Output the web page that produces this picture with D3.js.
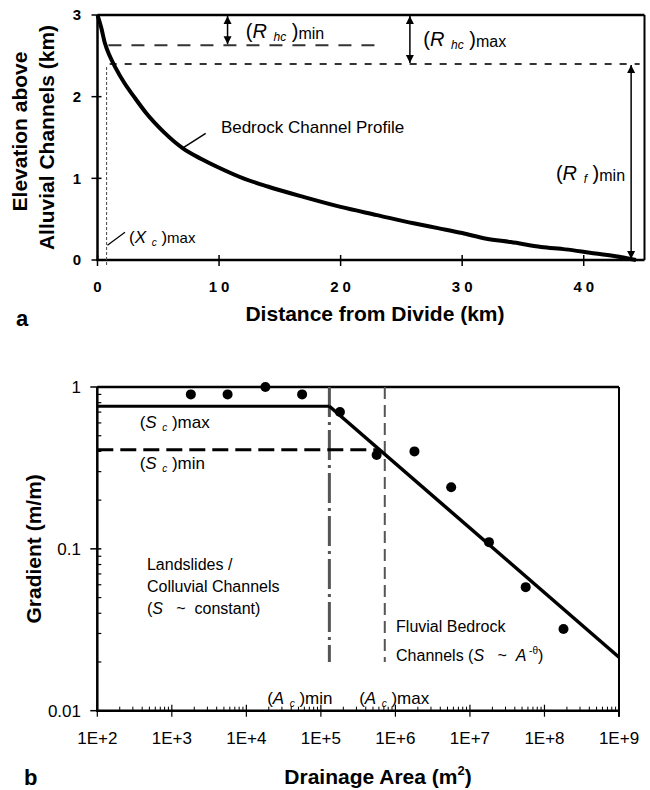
<!DOCTYPE html>
<html lang="en">
<head>
<meta charset="UTF-8">
<script src="https://cdn.jsdelivr.net/npm/d3@7/dist/d3.min.js"></script>
<title>Bedrock channel profile and slope-area</title>
<style>
  body { margin: 0; background: #fff; }
  svg { font-family: "Liberation Sans", Arial, sans-serif; }
</style>
</head>
<body>
<div id="chart"></div>
<script>
// ---- panel a: long profile (km) ----
const profileKm   = [0, 0.3, 0.6, 1.0, 1.5, 2.2, 3.0, 4.0, 5.5, 7.0, 8.5, 10, 12, 14, 17, 20, 23, 26, 28, 30, 32, 34, 36.5, 38.5, 40.5, 42.5, 44.3];
const profileElev = [3.0, 2.85, 2.66, 2.5, 2.35, 2.17, 2.0, 1.80, 1.56, 1.37, 1.24, 1.13, 1.0, 0.90, 0.77, 0.65, 0.55, 0.45, 0.39, 0.33, 0.26, 0.22, 0.16, 0.13, 0.09, 0.05, 0.0];
const distTicks = [0, 10, 20, 30, 40];
const elevTicks = [0, 1, 2, 3];
const rhcMinLevel = 2.63;   // elevation of upper dashed line
const rfMinLevel  = 2.4;    // elevation of lower dashed line
const xcMax = 0.75;         // km

// ---- panel b: slope-area ----
const areaBins  = [1.8e3, 5.6e3, 1.8e4, 5.6e4, 1.8e5, 5.6e5, 1.8e6, 5.6e6, 1.8e7, 5.6e7, 1.8e8];
const gradients = [0.9, 0.9, 1.0, 0.9, 0.70, 0.38, 0.40, 0.24, 0.11, 0.058, 0.032];
const areaTicks = [1e2, 1e3, 1e4, 1e5, 1e6, 1e7, 1e8, 1e9];
const gradTicks = [1, 0.1, 0.01];
const scMax = 0.76, scMin = 0.41;
const acMin = 1.3e5, acMax = 7.2e5;
const fluvialEnd = [1e9, 0.0214];

const W = 650, H = 790;
const svg = d3.select("#chart").append("svg")
  .attr("width", W).attr("height", H)
  .attr("viewBox", [0, 0, W, H]);

const defs = svg.append("defs");
defs.append("marker")
  .attr("id", "arr").attr("viewBox", "0 0 10 10")
  .attr("refX", 10).attr("refY", 5)
  .attr("markerWidth", 8).attr("markerHeight", 10)
  .attr("markerUnits", "userSpaceOnUse")
  .attr("orient", "auto-start-reverse")
  .append("path").attr("d", "M0,0L10,5L0,10Z").attr("fill", "#000");

// rich text helper: parts = [text, size, italic, dy]
function rich(g, x, y, parts, anchor) {
  const t = g.append("text").attr("x", x).attr("y", y)
    .attr("text-anchor", anchor || "start").attr("fill", "#000");
  parts.forEach(([s, size, it, dy]) => {
    t.append("tspan").text(s)
      .attr("font-size", size)
      .attr("font-style", it ? "italic" : "normal")
      .attr("dy", dy || 0)
      .attr("xml:space", "preserve");
  });
  return t;
}

// =================== PANEL A ===================
const xA = d3.scaleLinear().domain([0, 45]).range([97.5, 644.5]);
const yA = d3.scaleLinear().domain([0, 3]).range([260, 15]);
const ga = svg.append("g");

// frame
ga.append("line").attr("x1", xA(0)).attr("x2", xA(45)).attr("y1", yA(3)).attr("y2", yA(3))
  .attr("stroke", "#000").attr("stroke-width", 2.5);
ga.append("line").attr("x1", xA(45)).attr("x2", xA(45)).attr("y1", yA(3)).attr("y2", yA(0))
  .attr("stroke", "#000").attr("stroke-width", 2);
ga.append("line").attr("x1", xA(0)).attr("x2", xA(0)).attr("y1", yA(3)).attr("y2", yA(0) + 1)
  .attr("stroke", "#000").attr("stroke-width", 2.5);
ga.append("line").attr("x1", xA(0) - 1).attr("x2", xA(45)).attr("y1", yA(0)).attr("y2", yA(0))
  .attr("stroke", "#000").attr("stroke-width", 2.5);

// ticks (cross the axis)
ga.selectAll(".yt").data(elevTicks).join("line")
  .attr("x1", xA(0) - 6).attr("x2", xA(0) + 4)
  .attr("y1", d => yA(d)).attr("y2", d => yA(d))
  .attr("stroke", "#000").attr("stroke-width", 1.5);
ga.selectAll(".xt").data(distTicks).join("line")
  .attr("x1", d => xA(d)).attr("x2", d => xA(d))
  .attr("y1", yA(0) - 5).attr("y2", yA(0) + 6)
  .attr("stroke", "#000").attr("stroke-width", 1.5);

ga.selectAll(".yl").data(elevTicks).join("text")
  .attr("x", 81).attr("y", d => yA(d)).attr("dy", "0.35em")
  .attr("text-anchor", "end").attr("font-size", 15).attr("font-weight", "bold")
  .text(d => d);
ga.selectAll(".xl").data(distTicks).join("text")
  .attr("x", d => xA(d) + 2).attr("y", yA(0) + 32)
  .attr("text-anchor", "middle").attr("font-size", 15).attr("font-weight", "bold")
  .attr("letter-spacing", 4)
  .text(d => d);

// axis titles
ga.append("text").attr("transform", `translate(27,${(yA(0) + yA(3)) / 2 - 6}) rotate(-90)`)
  .attr("text-anchor", "middle").attr("font-size", 21).attr("font-weight", "bold")
  .text("Elevation above");
ga.append("text").attr("transform", `translate(54,${(yA(0) + yA(3)) / 2}) rotate(-90)`)
  .attr("text-anchor", "middle").attr("font-size", 21).attr("font-weight", "bold")
  .text("Alluvial Channels (km)");
ga.append("text").attr("x", 375).attr("y", 321)
  .attr("text-anchor", "middle").attr("font-size", 21).attr("font-weight", "bold")
  .text("Distance from Divide (km)");
ga.append("text").attr("x", 16).attr("y", 326)
  .attr("font-size", 22).attr("font-weight", "bold").text("a");

// dashed reference lines
ga.append("line").attr("x1", xA(0.9)).attr("x2", xA(23.2))
  .attr("y1", yA(rhcMinLevel)).attr("y2", yA(rhcMinLevel))
  .attr("stroke", "#333").attr("stroke-width", 2).attr("stroke-dasharray", "13,10");
ga.append("line").attr("x1", xA(1.0)).attr("x2", xA(44.6))
  .attr("y1", yA(rfMinLevel)).attr("y2", yA(rfMinLevel))
  .attr("stroke", "#333").attr("stroke-width", 2).attr("stroke-dasharray", "7,8");
ga.append("line").attr("x1", xA(xcMax)).attr("x2", xA(xcMax))
  .attr("y1", yA(rfMinLevel) + 3).attr("y2", yA(0) + 6)
  .attr("stroke", "#444").attr("stroke-width", 1).attr("stroke-dasharray", "3,2");

// arrows
function dblArrow(g, x, y1, y2) {
  g.append("line").attr("x1", x).attr("x2", x).attr("y1", y1).attr("y2", y2)
    .attr("stroke", "#000").attr("stroke-width", 1.5)
    .attr("marker-start", "url(#arr)").attr("marker-end", "url(#arr)");
}
dblArrow(ga, xA(10.7), yA(3) + 1, yA(rhcMinLevel) - 1);
dblArrow(ga, xA(25.7), yA(3) + 1, yA(rfMinLevel) - 1);
dblArrow(ga, xA(43.9), yA(rfMinLevel) + 1, yA(0) - 1);

// profile
ga.append("path")
  .datum(profileKm.map((d, i) => [d, profileElev[i]]))
  .attr("fill", "none").attr("stroke", "#000").attr("stroke-width", 4)
  .attr("stroke-linejoin", "round")
  .attr("d", d3.line().x(d => xA(d[0])).y(d => yA(d[1])).curve(d3.curveMonotoneX));

// leaders
ga.append("line").attr("x1", xA(7.0)).attr("y1", yA(1.37)).attr("x2", xA(8.9)).attr("y2", yA(1.55))
  .attr("stroke", "#000").attr("stroke-width", 1.5);
ga.append("line").attr("x1", xA(0.82)).attr("y1", yA(0.18)).attr("x2", xA(2.26)).attr("y2", yA(0.34))
  .attr("stroke", "#000").attr("stroke-width", 1.2);

// labels
ga.append("text").attr("x", xA(10.15)).attr("y", yA(1.555))
  .attr("font-size", 17).text("Bedrock Channel Profile");
rich(ga, xA(2.6), yA(0.21), [["(", 17], ["X", 17, true], ["  c", 10, true, 3], [" )", 17, false, -3], ["max", 15]]);
rich(ga, xA(12.2), yA(2.72), [["(", 20], ["R", 20, true], ["  hc", 12, true, 3], [" )", 20, false, -3], ["min", 16, false, 1]]);
rich(ga, xA(26.8), yA(2.62), [["(", 20], ["R", 20, true], ["  hc", 12, true, 3], [" )", 20, false, -3], ["max", 16, false, 1]]);
rich(ga, xA(43.4), yA(0.98), [["(", 20], ["R", 20, true], ["  f", 12, true, 3], [" )", 20, false, -3], ["min", 16, false, 1]], "end");

// =================== PANEL B ===================
const xB = d3.scaleLog().domain([1e2, 1e9]).range([97.3, 619]);
const yB = d3.scaleLog().domain([0.01, 1]).range([710.7, 387]);
const gb = svg.append("g");

// frame
gb.append("line").attr("x1", xB(1e2)).attr("x2", xB(1e9)).attr("y1", yB(1)).attr("y2", yB(1))
  .attr("stroke", "#000").attr("stroke-width", 2.5);
gb.append("line").attr("x1", xB(1e9)).attr("x2", xB(1e9)).attr("y1", yB(1)).attr("y2", yB(0.01) + 6)
  .attr("stroke", "#000").attr("stroke-width", 2);
gb.append("line").attr("x1", xB(1e2)).attr("x2", xB(1e2)).attr("y1", yB(1)).attr("y2", yB(0.01) + 1)
  .attr("stroke", "#000").attr("stroke-width", 2.5);
gb.append("line").attr("x1", xB(1e2) - 1).attr("x2", xB(1e9)).attr("y1", yB(0.01)).attr("y2", yB(0.01))
  .attr("stroke", "#000").attr("stroke-width", 2.5);

// minor ticks
const minorY = yB.ticks().filter(d => !gradTicks.includes(d));
gb.selectAll(".ym").data(minorY).join("line")
  .attr("x1", xB(1e2)).attr("x2", xB(1e2) + 4)
  .attr("y1", d => yB(d)).attr("y2", d => yB(d))
  .attr("stroke", "#000").attr("stroke-width", 1.2);
const minorX = xB.ticks().filter(d => !areaTicks.includes(d));
gb.selectAll(".xm").data(minorX).join("line")
  .attr("x1", d => xB(d)).attr("x2", d => xB(d))
  .attr("y1", yB(0.01)).attr("y2", yB(0.01) - 4)
  .attr("stroke", "#000").attr("stroke-width", 1);
// major ticks
gb.selectAll(".yt").data(gradTicks).join("line")
  .attr("x1", xB(1e2) - 7).attr("x2", xB(1e2) + 4)
  .attr("y1", d => yB(d)).attr("y2", d => yB(d))
  .attr("stroke", "#000").attr("stroke-width", 1.5);
gb.selectAll(".xt").data(areaTicks).join("line")
  .attr("x1", d => xB(d)).attr("x2", d => xB(d))
  .attr("y1", yB(0.01) - 6).attr("y2", yB(0.01) + 6)
  .attr("stroke", "#000").attr("stroke-width", 1.2);

gb.selectAll(".yl").data(gradTicks).join("text")
  .attr("x", 81).attr("y", d => yB(d)).attr("dy", "0.35em")
  .attr("text-anchor", "end").attr("font-size", 17)
  .text(d => d);
gb.selectAll(".xl").data(areaTicks).join("text")
  .attr("x", d => xB(d)).attr("y", yB(0.01) + 33)
  .attr("text-anchor", "middle").attr("font-size", 17)
  .text(d => "1E+" + Math.round(Math.log10(d)));

gb.append("text").attr("transform", `translate(41,${(yB(1) + yB(0.01)) / 2}) rotate(-90)`)
  .attr("text-anchor", "middle").attr("font-size", 21).attr("font-weight", "bold")
  .text("Gradient  (m/m)");
const xt = gb.append("text").attr("x", 378).attr("y", 784)
  .attr("text-anchor", "middle").attr("font-size", 21).attr("font-weight", "bold");
xt.append("tspan").text("Drainage Area (m");
xt.append("tspan").text("2").attr("font-size", 13).attr("dy", -9);
xt.append("tspan").text(")").attr("dy", 9);
gb.append("text").attr("x", 24).attr("y", 785)
  .attr("font-size", 22).attr("font-weight", "bold").text("b");

// critical area lines
gb.append("line").attr("x1", xB(acMin)).attr("x2", xB(acMin)).attr("y1", yB(1)).attr("y2", yB(0.02))
  .attr("stroke", "#555").attr("stroke-width", 3).attr("stroke-dasharray", "30,5,3,5");
gb.append("line").attr("x1", xB(acMax)).attr("x2", xB(acMax)).attr("y1", yB(1)).attr("y2", yB(0.02))
  .attr("stroke", "#555").attr("stroke-width", 2).attr("stroke-dasharray", "12,6");

// critical slope lines
const theta = Math.log10(scMax / fluvialEnd[1]) / Math.log10(fluvialEnd[0] / acMin);
const scMinArea = acMin * Math.pow(scMax / scMin, 1 / theta);
gb.append("line").attr("x1", xB(1e2)).attr("x2", xB(acMin)).attr("y1", yB(scMax)).attr("y2", yB(scMax))
  .attr("stroke", "#000").attr("stroke-width", 3);
gb.append("line").attr("x1", xB(1e2)).attr("x2", xB(scMinArea)).attr("y1", yB(scMin)).attr("y2", yB(scMin))
  .attr("stroke", "#000").attr("stroke-width", 3).attr("stroke-dasharray", "16,7");
gb.append("line").attr("x1", xB(acMin)).attr("x2", xB(fluvialEnd[0]))
  .attr("y1", yB(scMax)).attr("y2", yB(fluvialEnd[1]))
  .attr("stroke", "#000").attr("stroke-width", 3.5);

// data points
gb.selectAll(".pt").data(areaBins).join("circle")
  .attr("cx", d => xB(d)).attr("cy", (d, i) => yB(gradients[i]))
  .attr("r", 5).attr("fill", "#000");

// labels
rich(gb, xB(370), yB(0.56), [["(", 17], ["S", 17, true], ["  c", 10, true, 3], [" )", 17, false, -3], ["max", 17]]);
rich(gb, xB(370), yB(0.31), [["(", 17], ["S", 17, true], ["  c", 10, true, 3], [" )", 17, false, -3], ["min", 17]]);
const ls = gb.append("g").attr("font-size", 16);
ls.append("text").attr("x", xB(464)).attr("y", yB(0.074)).text("Landslides /");
ls.append("text").attr("x", xB(464)).attr("y", yB(0.074) + 22).text("Colluvial Channels");
rich(ls, xB(464), yB(0.074) + 44, [["(", 16], ["S", 16, true], ["   ~  constant)", 16]]);
gb.append("text").attr("x", xB(1.02e6)).attr("y", 632).attr("font-size", 16).text("Fluvial Bedrock");
rich(gb, xB(1.02e6), 661, [["Channels (", 16], ["S", 16, true], ["   ~  ", 16], ["A", 16, true], [" -θ", 10, false, -7], [")", 16, false, 7]]);
rich(gb, xB(1.9e4), yB(0.011), [["(", 17], ["A", 17, true], ["  c", 10, true, 3], [" )", 17, false, -3], ["min", 17]]);
rich(gb, xB(3.26e5), yB(0.011), [["(", 17], ["A", 17, true], ["  c", 10, true, 3], [" )", 17, false, -3], ["max", 17]]);
</script>
</body>
</html>
